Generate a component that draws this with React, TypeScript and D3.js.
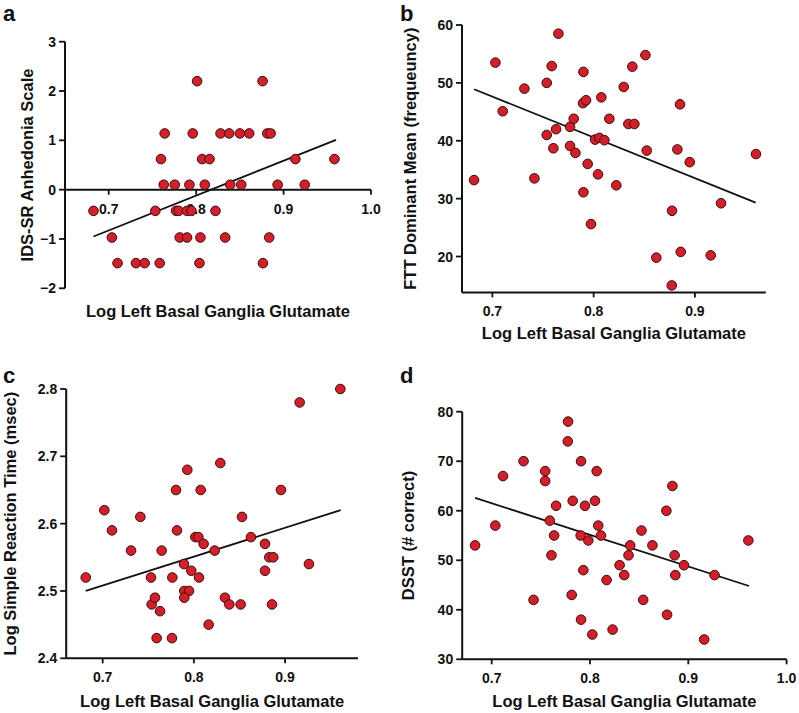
import React from "react";
import * as d3 from "d3";

// ---------- Panel a : IDS-SR Anhedonia Scale ----------
const aX = [
  0.8011, 0.876,
  0.764, 0.7961, 0.8279, 0.8378, 0.85, 0.8607, 0.8814, 0.8852,
  0.7598, 0.8068, 0.8153, 0.9135, 0.9582,
  0.7629, 0.7755, 0.7923, 0.8099, 0.839, 0.8516, 0.8932, 0.9242,
  0.6826, 0.7533, 0.777, 0.7801, 0.7896, 0.7946, 0.8221,
  0.7036, 0.7812, 0.7896, 0.8049, 0.8332, 0.8836,
  0.7101, 0.7312, 0.7411, 0.7583, 0.8038, 0.8764,
];
const aY = [
  2.2, 2.2,
  1.14, 1.14, 1.14, 1.14, 1.14, 1.14, 1.14, 1.14,
  0.62, 0.62, 0.62, 0.62, 0.62,
  0.1, 0.1, 0.1, 0.1, 0.1, 0.1, 0.1, 0.1,
  -0.43, -0.43, -0.43, -0.43, -0.43, -0.43, -0.43,
  -0.97, -0.97, -0.97, -0.97, -0.97, -0.97,
  -1.49, -1.49, -1.49, -1.49, -1.49, -1.49,
];
const aFitX = [0.6826, 0.96];
const aFitY = [-0.95, 1.01];
const aTicksX = [0.7, 0.8, 0.9, 1.0];
const aTicksY = [-2, -1, 0, 1, 2, 3];

// ---------- Panel b : FTT ----------
const bX = [
  0.6819, 0.703, 0.7102, 0.7316, 0.7415, 0.7537, 0.7537, 0.7586, 0.7602, 0.7629,
  0.7652, 0.7767, 0.7767, 0.7803, 0.782, 0.7899, 0.7895, 0.7925, 0.7899, 0.7941,
  0.7974, 0.8014, 0.8057, 0.8043, 0.8076, 0.8106, 0.8155, 0.8224, 0.8297, 0.8343,
  0.8402, 0.8382, 0.8511, 0.8524, 0.8619, 0.8774, 0.8771, 0.8827, 0.8853, 0.886,
  0.8949, 0.9156, 0.9258, 0.9603,
];
const bY = [
  33.2, 53.5, 45.1, 49.0, 33.5, 50.0, 41.0, 52.9, 38.7, 42.0,
  58.5, 42.4, 39.1, 43.8, 37.9, 51.9, 46.5, 47.0, 31.1, 36.0,
  25.6, 40.2, 40.5, 34.2, 47.5, 40.1, 43.8, 32.3, 49.3, 42.9,
  42.9, 52.8, 54.8, 38.3, 19.8, 27.9, 15.0, 38.5, 46.3, 20.8,
  36.3, 20.2, 29.2, 37.7,
];
const bFitX = [0.682, 0.96];
const bFitY = [48.9, 29.3];
const bTicksX = [0.7, 0.8, 0.9];
const bTicksY = [20, 30, 40, 50, 60];

// ---------- Panel c : Simple Reaction Time ----------
const cX = [
  0.6814, 0.7018, 0.7102, 0.7311, 0.7413, 0.753, 0.7537, 0.7574, 0.7592, 0.7629,
  0.7647, 0.776, 0.7764, 0.7804, 0.7815, 0.7892, 0.7895, 0.7947, 0.7895, 0.7928,
  0.7972, 0.8016, 0.8049, 0.8056, 0.8075, 0.8107, 0.8162, 0.8228, 0.829, 0.8341,
  0.8389, 0.8513, 0.8528, 0.8626, 0.878, 0.878, 0.8827, 0.8871, 0.8857, 0.8955,
  0.916, 0.9262, 0.9606,
];
const cY = [
  2.52, 2.62, 2.59, 2.56, 2.61, 2.52, 2.48, 2.49, 2.43, 2.47,
  2.56, 2.43, 2.52, 2.65, 2.59, 2.54, 2.5, 2.5, 2.49, 2.68,
  2.53, 2.58, 2.58, 2.52, 2.65, 2.57, 2.45, 2.56, 2.69, 2.49,
  2.48, 2.48, 2.61, 2.58, 2.57, 2.53, 2.55, 2.55, 2.48, 2.65,
  2.78, 2.54, 2.8,
];
const cFitX = [0.6814, 0.961];
const cFitY = [2.5, 2.62];
const cTicksX = [0.7, 0.8, 0.9];
const cTicksY = [2.4, 2.5, 2.6, 2.7, 2.8];

// ---------- Panel d : DSST ----------
const dX = [
  0.6831, 0.7037, 0.7115, 0.7324, 0.7426, 0.7544, 0.7544, 0.7591, 0.7608, 0.7635,
  0.7655, 0.7777, 0.7774, 0.7814, 0.7824, 0.7909, 0.7905, 0.7909, 0.7932, 0.7949,
  0.7983, 0.8024, 0.8051, 0.8068, 0.8084, 0.8111, 0.8169, 0.823, 0.8301, 0.8348,
  0.8392, 0.8409, 0.8524, 0.8541, 0.8635, 0.8777, 0.8784, 0.8838, 0.8861, 0.8868,
  0.8956, 0.9162, 0.9267, 0.9611,
];
const dY = [
  53, 57, 67, 70, 42, 68, 66, 58, 51, 55,
  61, 78, 74, 43, 62, 70, 55, 38, 48, 61,
  54, 35, 62, 68, 57, 55, 46, 36, 49, 47,
  51, 53, 56, 42, 53, 60, 39, 65, 51, 47,
  49, 34, 47, 54,
];
const dFitX = [0.6831, 0.9618];
const dFitY = [62.6, 44.8];
const dTicksX = [0.7, 0.8, 0.9, 1.0];
const dTicksY = [30, 40, 50, 60, 70, 80];

const X_TITLE = "Log Left Basal Ganglia Glutamate";

type PanelProps = {
  letter: string;
  letterPos: [number, number];
  xs: number[];
  ys: number[];
  fitX: number[];
  fitY: number[];
  xDomain: [number, number];
  xRange: [number, number];
  yDomain: [number, number];
  yRange: [number, number];
  xTicks: number[];
  yTicks: number[];
  yFmt: (v: number) => string;
  xAxisAt?: number;
  xTitleY: number;
  yTitle: string;
  yTitleX: number;
};

const FONT = "'Liberation Sans', Arial, Helvetica, sans-serif";

function Panel(p: PanelProps) {
  const x = d3.scaleLinear().domain(p.xDomain).range(p.xRange);
  const y = d3.scaleLinear().domain(p.yDomain).range(p.yRange);
  const axisY = p.xAxisAt !== undefined ? y(p.xAxisAt) : p.yRange[0];
  const axisX = p.xRange[0];
  const line = d3
    .line<number>()
    .x((_, i) => x(p.fitX[i]))
    .y((d) => y(d));
  const xFmt = d3.format(".1f");
  const xMid = (p.xRange[0] + p.xRange[1]) / 2;
  const yMid = (p.yRange[0] + p.yRange[1]) / 2;
  return (
    <g fontFamily={FONT} fontWeight="bold" fill="#111">
      <text x={p.letterPos[0]} y={p.letterPos[1]} fontSize={22}>
        {p.letter}
      </text>
      {/* y axis */}
      <line x1={axisX} x2={axisX} y1={p.yRange[0]} y2={p.yRange[1]} stroke="#111" strokeWidth={2} />
      {p.yTicks.map((t) => (
        <g key={"yt" + t}>
          <line x1={axisX - 6} x2={axisX} y1={y(t)} y2={y(t)} stroke="#111" strokeWidth={1.8} />
          <text x={axisX - 9} y={y(t)} dy="0.36em" textAnchor="end" fontSize={14}>
            {p.yFmt(t)}
          </text>
        </g>
      ))}
      {/* x axis */}
      <line x1={p.xRange[0]} x2={p.xRange[1]} y1={axisY} y2={axisY} stroke="#111" strokeWidth={2} />
      {p.xTicks.map((t) => (
        <g key={"xt" + t}>
          <line x1={x(t)} x2={x(t)} y1={axisY} y2={axisY + 5} stroke="#111" strokeWidth={1.8} />
          <text x={x(t)} y={axisY + 24} textAnchor="middle" fontSize={14}>
            {xFmt(t)}
          </text>
        </g>
      ))}
      <text x={xMid} y={p.xTitleY} textAnchor="middle" fontSize={16.5}>
        {X_TITLE}
      </text>
      <text
        transform={`translate(${p.yTitleX},${yMid}) rotate(-90)`}
        textAnchor="middle"
        fontSize={16.5}
      >
        {p.yTitle}
      </text>
      {/* regression line */}
      <path d={line(p.fitY) || ""} fill="none" stroke="#111" strokeWidth={1.8} />
      {/* points */}
      {p.xs.map((v, i) => (
        <circle
          key={i}
          cx={x(v)}
          cy={y(p.ys[i])}
          r={4.8}
          fill="#d41f2a"
          stroke="#3a0d0d"
          strokeWidth={1}
        />
      ))}
    </g>
  );
}

export default function App() {
  const intFmt = d3.format("d");
  const oneFmt = d3.format(".1f");
  return (
    <svg
      width={799}
      height={713}
      style={{ position: "absolute", left: 0, top: 0, background: "#fff" }}
    >
      <rect width={799} height={713} fill="#fff" />
      <Panel
        letter="a"
        letterPos={[3, 21]}
        xs={aX}
        ys={aY}
        fitX={aFitX}
        fitY={aFitY}
        xDomain={[0.65, 1.0]}
        xRange={[65, 371]}
        yDomain={[-2, 3]}
        yRange={[288.3, 41.7]}
        xTicks={aTicksX}
        yTicks={aTicksY}
        yFmt={intFmt}
        xAxisAt={0}
        xTitleY={317}
        yTitle="IDS-SR Anhedonia Scale"
        yTitleX={33}
      />
      <Panel
        letter="b"
        letterPos={[400, 21]}
        xs={bX}
        ys={bY}
        fitX={bFitX}
        fitY={bFitY}
        xDomain={[0.67, 0.97]}
        xRange={[462, 765.8]}
        yDomain={[13.8, 60]}
        yRange={[292.4, 25]}
        xTicks={bTicksX}
        yTicks={bTicksY}
        yFmt={intFmt}
        xTitleY={338.5}
        yTitle="FTT Dominant Mean (frequeuncy)"
        yTitleX={416}
      />
      <Panel
        letter="c"
        letterPos={[3, 383]}
        xs={cX}
        ys={cY}
        fitX={cFitX}
        fitY={cFitY}
        xDomain={[0.66, 0.98]}
        xRange={[66.2, 358]}
        yDomain={[2.4, 2.8]}
        yRange={[658.3, 389]}
        xTicks={cTicksX}
        yTicks={cTicksY}
        yFmt={oneFmt}
        xTitleY={707}
        yTitle="Log Simple Reaction Time (msec)"
        yTitleX={16}
      />
      <Panel
        letter="d"
        letterPos={[400, 383]}
        xs={dX}
        ys={dY}
        fitX={dFitX}
        fitY={dFitY}
        xDomain={[0.67, 1.0]}
        xRange={[462.2, 786.6]}
        yDomain={[30, 80]}
        yRange={[659.3, 411.7]}
        xTicks={dTicksX}
        yTicks={dTicksY}
        yFmt={intFmt}
        xTitleY={707}
        yTitle="DSST (# correct)"
        yTitleX={414}
      />
    </svg>
  );
}
